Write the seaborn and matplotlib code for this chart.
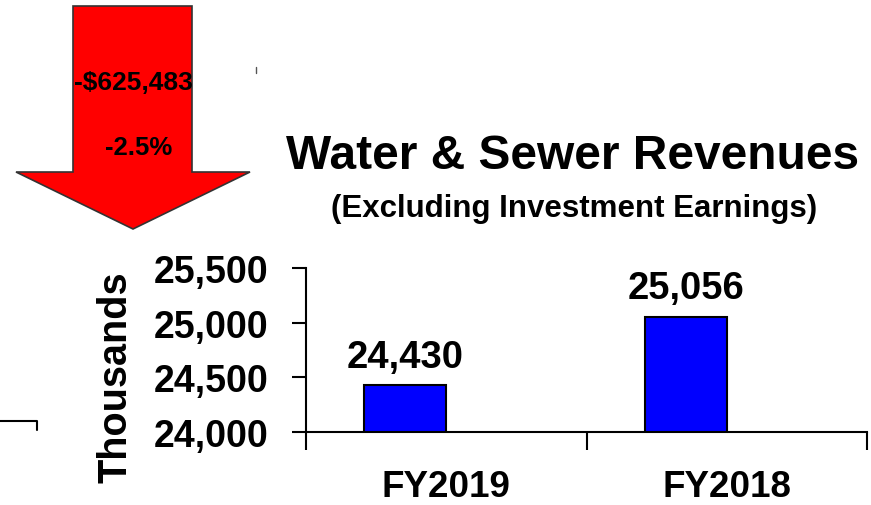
import matplotlib
matplotlib.use("Agg")
import matplotlib.pyplot as plt
import seaborn as sns
import pandas as pd
from matplotlib.patches import Polygon
from matplotlib.lines import Line2D

# ---- data ----
categories = ["FY2019", "FY2018"]
revenues = [24430, 25056]          # thousands
value_labels = ["24,430", "25,056"]
y_ticks = [24000, 24500, 25000, 25500]
y_tick_labels = ["24,000", "24,500", "25,000", "25,500"]
change_amount = "-$625,483"
change_pct = "-2.5%"
title = "Water & Sewer Revenues"
subtitle = "(Excluding Investment Earnings)"
y_label = "Thousands"

sns.set_theme(style="white")
plt.rcParams["font.family"] = ["Liberation Sans", "DejaVu Sans"]
plt.rcParams["text.color"] = "black"
plt.rcParams["axes.labelcolor"] = "black"
plt.rcParams["xtick.color"] = "black"
plt.rcParams["ytick.color"] = "black"

W, H = 871, 506
fig = plt.figure(figsize=(W / 100, H / 100), dpi=100)
fig.patch.set_facecolor("white")

def px(x0, y0, x1, y1):
    return [x0 / W, 1 - y1 / H, (x1 - x0) / W, (y1 - y0) / H]

ax = fig.add_axes(px(306, 269, 867, 433))

df = pd.DataFrame({"year": categories, "value": revenues, "series": ["rev"] * 2})
sns.barplot(data=df, x="year", y="value", hue="series", hue_order=["rev", "_pad"],
            order=categories, dodge=True, width=0.586, palette={"rev": "#0000FF", "_pad": "#0000FF"},
            edgecolor="black", linewidth=1.5, legend=False, ax=ax, saturation=1)

ax.set_ylim(y_ticks[0], y_ticks[-1])
ax.set_xlim(-0.5, len(categories) - 0.5)
ax.set_yticks(y_ticks)
ax.set_yticklabels(y_tick_labels, fontsize=27, fontweight="bold")
ax.set_xticks([-0.5, 0.5, 1.5])
ax.set_xticklabels([])
ax.set_xticks(range(len(categories)), minor=True)
ax.set_xticklabels(categories, minor=True, fontsize=26.5, fontweight="bold")
ax.tick_params(axis="x", which="major", direction="out", length=13, width=1.5, color="black", bottom=True)
ax.tick_params(axis="x", which="minor", length=0, pad=27, bottom=True)
ax.tick_params(axis="y", direction="out", length=10, width=1.5, color="black", pad=17, left=True)
ax.set_xlabel("")
ax.set_ylabel(y_label, fontsize=28.5, fontweight="bold")
ax.yaxis.set_label_coords(-0.306, 0.341)
for s in ["top", "right"]:
    ax.spines[s].set_visible(False)
for s in ["left", "bottom"]:
    ax.spines[s].set_color("black")
    ax.spines[s].set_linewidth(1.5)
ax.set_facecolor("white")

# value labels above bars
bars = [p for p in ax.patches if p.get_height() == p.get_height() and p.get_height() > 0]
for bar, lab in zip(bars, value_labels):
    ax.annotate(lab, (bar.get_x() + bar.get_width() / 2, bar.get_height()),
                xytext=(0, 13), textcoords="offset points", ha="center", va="baseline",
                fontsize=27.5, fontweight="bold", color="black")

# overlay for decorations
ov = fig.add_axes([0, 0, 1, 1], zorder=-1)
ov.set_xlim(0, W)
ov.set_ylim(H, 0)
ov.axis("off")
ov.patch.set_alpha(0)

arrow = Polygon([(73, 7), (192, 7), (192, 173), (250, 173), (133, 230),
                 (16, 173), (73, 173)], closed=True, facecolor="#FF0000",
                edgecolor="#333333", linewidth=1.2, joinstyle="miter")
ov.add_patch(arrow)
ov.text(133, 83, change_amount, ha="center", va="center", fontsize=19, fontweight="bold", color="black")
ov.text(139, 148, change_pct, ha="center", va="center", fontsize=18.5, fontweight="bold", color="black")

ov.add_line(Line2D([0, 37, 37], [422, 422, 431], color="black", linewidth=1.5))
ov.add_line(Line2D([256, 256], [68, 74], color="#555555", linewidth=1))

fig.text(573 / W, 1 - 169 / H, title, ha="center", va="baseline", fontsize=34.5, fontweight="bold")
fig.text(574 / W, 1 - 217 / H, subtitle, ha="center", va="baseline", fontsize=22.5, fontweight="bold")

fig.savefig("out.png", dpi=100, facecolor="white")
